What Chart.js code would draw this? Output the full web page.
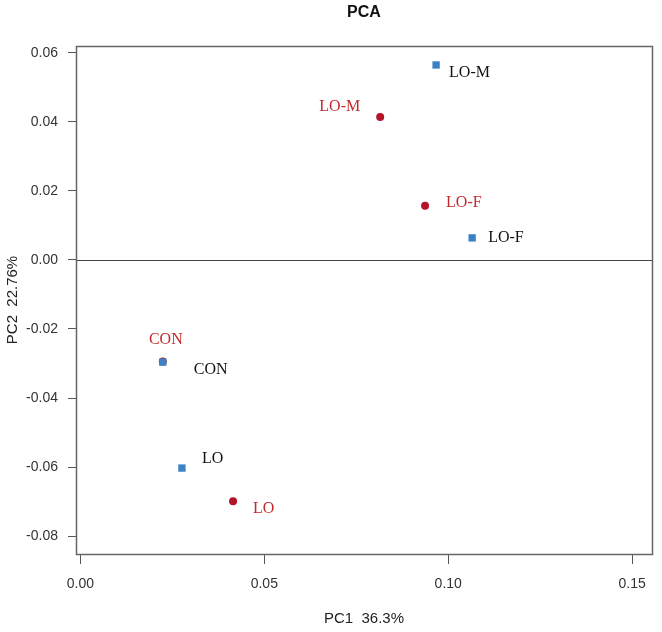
<!DOCTYPE html>
<html>
<head>
<meta charset="utf-8">
<script src="https://cdn.jsdelivr.net/npm/chart.js@4/dist/chart.umd.min.js"></script>
<style>
  html, body { margin: 0; padding: 0; background: #fff; }
  #wrap { width: 662px; height: 632px; }
</style>
</head>
<body>
<div id="wrap"><canvas id="myChart"></canvas></div>
<script>
// datos del PCA
const grupos = ['LO-M', 'LO-F', 'CON', 'LO'];
const serieAzulPC1 = [0.0967, 0.1065, 0.0224, 0.0276];
const serieAzulPC2 = [0.0565, 0.0064, -0.0296, -0.0603];
const serieRojaPC1 = [0.0815, 0.0937, 0.0224, 0.0415];
const serieRojaPC2 = [0.0414, 0.0157, -0.0294, -0.0699];
const ticksX = [0, 0.05, 0.10, 0.15];
const ticksY = [0.06, 0.04, 0.02, 0, -0.02, -0.04, -0.06, -0.08];

const azul = '#3b82c4';
const rojo = '#b5122b';
const rojoTexto = '#c42a2c';
const fuenteSans = 'Liberation Sans, Arial, sans-serif';

// desplazamiento de cada etiqueta respecto a su punto (px)
const desplAzul = [[13, 8, 'left'], [16, 0, 'left'], [31, 8, 'left'], [20, -9, 'left']];
const desplRojo = [[-20, -10, 'right'], [21, -3, 'left'], [3, -22, 'center'], [20, 8, 'left']];

const puntos = (xs, ys) => xs.map((x, i) => ({ x: x, y: ys[i] }));

// titulo, marco, linea del cero y etiquetas
const pluginPCA = {
  id: 'pluginPCA',
  beforeDatasetsDraw(chart) {
    const { ctx, chartArea: a, scales } = chart;
    ctx.save();
    ctx.fillStyle = '#111';
    ctx.font = 'bold 16px ' + fuenteSans;
    ctx.textAlign = 'center';
    ctx.textBaseline = 'middle';
    ctx.fillText('PCA', (a.left + a.right) / 2, 13);

    ctx.strokeStyle = '#444';
    ctx.lineWidth = 1;
    const y0 = Math.round(scales.y.getPixelForValue(0)) + 0.5;
    ctx.beginPath();
    ctx.moveTo(a.left, y0);
    ctx.lineTo(a.right, y0);
    ctx.stroke();
    ctx.strokeStyle = '#666';
    ctx.lineWidth = 1.5;
    ctx.strokeRect(Math.round(a.left) + 0.5, Math.round(a.top) + 0.5, Math.round(a.width), Math.round(a.height));
    ctx.restore();
  },
  afterDatasetsDraw(chart) {
    const { ctx } = chart;
    ctx.save();
    ctx.font = '16px "Liberation Serif", "DejaVu Serif", serif';
    ctx.textBaseline = 'middle';
    chart.data.datasets.forEach((ds, d) => {
      const meta = chart.getDatasetMeta(d);
      const despl = d === 0 ? desplAzul : desplRojo;
      ctx.fillStyle = d === 0 ? '#111' : rojoTexto;
      meta.data.forEach((el, i) => {
        const [dx, dy, al] = despl[i];
        ctx.textAlign = al;
        ctx.fillText(grupos[i], el.x + dx, el.y + dy);
      });
    });
    ctx.restore();
  }
};

const ctx = document.getElementById('myChart').getContext('2d');

const myChart = new Chart(ctx, {
  type: 'scatter',
  data: {
    datasets: [
      {
        label: 'azul',
        data: puntos(serieAzulPC1, serieAzulPC2),
        pointStyle: 'rect',
        pointRadius: 5.2,
        pointHoverRadius: 5.2,
        backgroundColor: azul,
        borderColor: azul,
        borderWidth: 0
      },
      {
        label: 'rojo',
        data: puntos(serieRojaPC1, serieRojaPC2),
        pointStyle: 'circle',
        pointRadius: 4,
        pointHoverRadius: 4,
        backgroundColor: rojo,
        borderColor: rojo,
        borderWidth: 0
      }
    ]
  },
  options: {
    responsive: true,
    maintainAspectRatio: false,
    animation: false,
    layout: { padding: { top: 46, right: 10, left: 0, bottom: 0 } },
    plugins: {
      legend: { display: false },
      tooltip: { enabled: false },
      title: { display: false }
    },
    scales: {
      x: {
        type: 'linear',
        position: 'bottom',
        min: -0.0012,
        max: 0.1554,
        afterBuildTicks: (s) => { s.ticks = ticksX.map(v => ({ value: v })); },
        afterFit: (s) => { s.height = 78; },
        border: { display: false },
        grid: { drawOnChartArea: false, drawTicks: true, tickLength: 10, color: '#555' },
        ticks: {
          color: '#333',
          padding: 12,
          maxRotation: 0,
          font: { family: fuenteSans, size: 14 },
          callback: (v) => Number(v).toFixed(2)
        },
        title: {
          display: true,
          text: 'PC1  36.3%',
          color: '#222',
          font: { family: fuenteSans, size: 15 },
          padding: { top: 0, bottom: 4 }
        }
      },
      y: {
        type: 'linear',
        min: -0.0852,
        max: 0.062,
        afterBuildTicks: (s) => { s.ticks = ticksY.map(v => ({ value: v })); },
        afterFit: (s) => { s.width = 76; },
        border: { display: false },
        grid: { drawOnChartArea: false, drawTicks: true, tickLength: 8, color: '#555' },
        ticks: {
          color: '#333',
          padding: 10,
          font: { family: fuenteSans, size: 14 },
          callback: (v) => Number(v).toFixed(2)
        },
        title: {
          display: true,
          text: 'PC2  22.76%',
          color: '#222',
          font: { family: fuenteSans, size: 15 },
          padding: { top: 4, bottom: 0 }
        }
      }
    }
  },
  plugins: [pluginPCA]
});
</script>
</body>
</html>
